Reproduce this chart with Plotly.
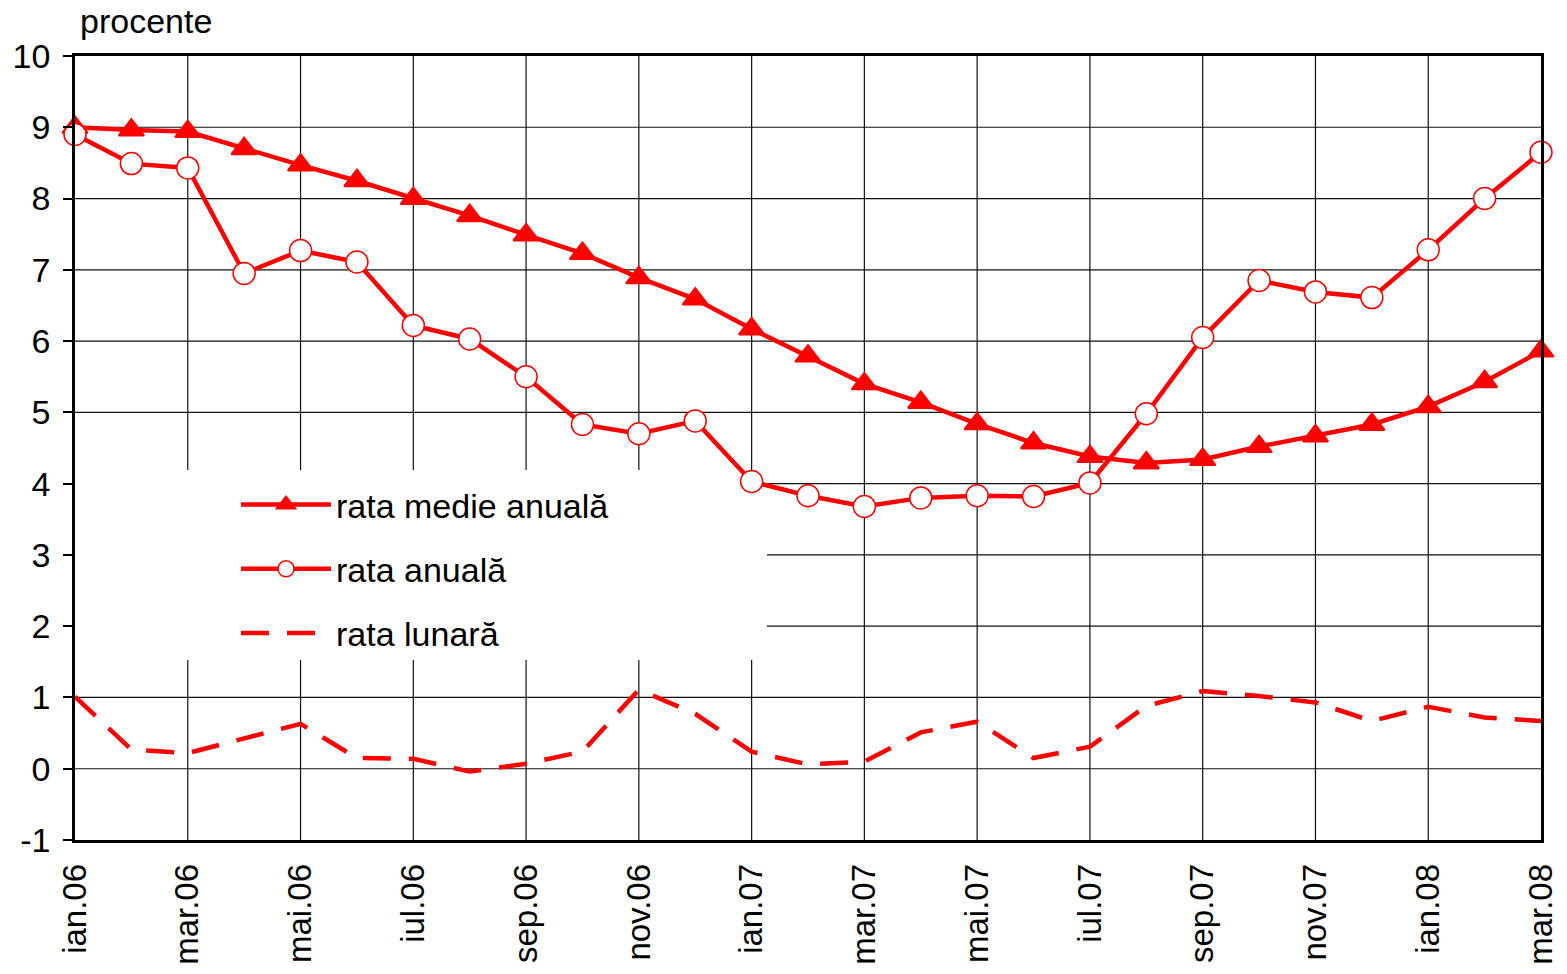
"""
Inflatia: rata medie anuala, rata anuala si rata lunara (ian.06 - mar.08).
"""
import plotly.graph_objects as go

months = [
    "ian.06", "feb.06", "mar.06", "apr.06", "mai.06", "iun.06", "iul.06",
    "aug.06", "sep.06", "oct.06", "nov.06", "dec.06",
    "ian.07", "feb.07", "mar.07", "apr.07", "mai.07", "iun.07", "iul.07",
    "aug.07", "sep.07", "oct.07", "nov.07", "dec.07",
    "ian.08", "feb.08", "mar.08",
]

rata_medie_anuala = [
    9.00, 8.96, 8.94, 8.70, 8.47, 8.25, 8.00, 7.76, 7.49, 7.23, 6.89, 6.59,
    6.17, 5.79, 5.40, 5.14, 4.84, 4.57, 4.38, 4.29, 4.34, 4.52, 4.67, 4.83,
    5.08, 5.43, 5.86,
]

rata_anuala = [
    8.90, 8.49, 8.43, 6.95, 7.27, 7.11, 6.22, 6.03, 5.50, 4.83, 4.70, 4.88,
    4.03, 3.83, 3.68, 3.80, 3.83, 3.82, 4.01, 4.98, 6.05, 6.85, 6.69, 6.61,
    7.28, 8.00, 8.65,
]

rata_lunara = [
    1.01, 0.27, 0.22, 0.43, 0.63, 0.15, 0.14, -0.04, 0.07, 0.24, 1.11, 0.77,
    0.24, 0.06, 0.10, 0.51, 0.66, 0.15, 0.31, 0.88, 1.09, 1.02, 0.93, 0.67,
    0.87, 0.72, 0.67,
]

y_ticks = list(range(-1, 11))
x_ticks = months[::2]

FONT = "Liberation Sans, Arial, sans-serif"
RED = "#ff0000"
GRID = "#111"
FS = 34

# legend box (axis-domain fractions); gridlines are not drawn inside it
BOX_X1 = 0.472
BOX_Y0, BOX_Y1 = 0.2296, 0.472
Y_MIN, Y_MAX = -1, 10

fig = go.Figure()

# gridlines, skipping the legend box
grid = dict(type="line", line=dict(color=GRID, width=1.2), layer="below")
for v in y_ticks[1:-1]:
    frac = (v - Y_MIN) / (Y_MAX - Y_MIN)
    x0 = BOX_X1 if BOX_Y0 < frac < BOX_Y1 else 0
    fig.add_shape(xref="x domain", yref="y", x0=x0, x1=1, y0=v, y1=v, **grid)
for i, m in enumerate(x_ticks[1:-1], start=1):
    frac = 2 * i / (len(months) - 1)
    if frac < BOX_X1:
        fig.add_shape(xref="x", yref="y domain", x0=m, x1=m, y0=0, y1=BOX_Y0, **grid)
        fig.add_shape(xref="x", yref="y domain", x0=m, x1=m, y0=BOX_Y1, y1=1, **grid)
    else:
        fig.add_shape(xref="x", yref="y domain", x0=m, x1=m, y0=0, y1=1, **grid)

fig.add_trace(go.Scatter(
    x=months, y=rata_medie_anuala, name="rata medie anuală",
    mode="lines+markers", legendgroup="a", cliponaxis=False,
    line=dict(color=RED, width=4.5),
    marker=dict(symbol="triangle-up", size=22, color=RED,
                line=dict(color=RED, width=2)),
))

fig.add_trace(go.Scatter(
    x=months, y=rata_anuala, name="rata anuală",
    mode="lines+markers", legendgroup="b", cliponaxis=False,
    line=dict(color=RED, width=4.5),
    marker=dict(symbol="circle", size=22, color="white",
                line=dict(color=RED, width=1.5)),
))

fig.add_trace(go.Scatter(
    x=months, y=rata_lunara, name="rata lunară",
    mode="lines", legendgroup="c", cliponaxis=False,
    line=dict(color=RED, width=4.5, dash="28px,18px"),
))

fig.add_annotation(
    text="procente", xref="paper", yref="paper", x=0, y=1,
    xanchor="left", yanchor="bottom", xshift=3, yshift=14,
    showarrow=False, font=dict(family=FONT, size=FS, color="black"),
)

fig.update_layout(
    width=1567, height=974,
    margin=dict(l=75, r=26, t=56, b=134),
    paper_bgcolor="white", plot_bgcolor="white",
    font=dict(family=FONT, size=FS, color="black"),
    showlegend=True,
    legend=dict(
        x=(236 - 75) / 1466, y=(840 - 476) / 784,
        xanchor="left", yanchor="top",
        bgcolor="rgba(0,0,0,0)", itemwidth=90,
        tracegroupgap=17, font=dict(family=FONT, size=FS, color="black"),
    ),
)

fig.update_xaxes(
    type="category", range=[0, len(months) - 1], automargin=False,
    tickmode="array", tickvals=x_ticks, ticktext=x_ticks,
    tickangle=-90, ticks="", ticklabelstandoff=8,
    tickfont=dict(family=FONT, size=33, color="black"),
    showgrid=False,
    showline=True, linecolor="black", linewidth=2.5, mirror=True,
)

fig.update_yaxes(
    range=[Y_MIN, Y_MAX], automargin=False,
    tickmode="array", tickvals=y_ticks, ticktext=[str(v) for v in y_ticks],
    ticks="outside", ticklen=9, tickcolor="black", tickwidth=1.5,
    ticklabelstandoff=6,
    showgrid=False, zeroline=False,
    showline=True, linecolor="black", linewidth=2.5, mirror=True,
)

fig.write_html(
    "out.html",
    config={"displayModeBar": False},
    post_script="document.body.style.margin='0';",
)
